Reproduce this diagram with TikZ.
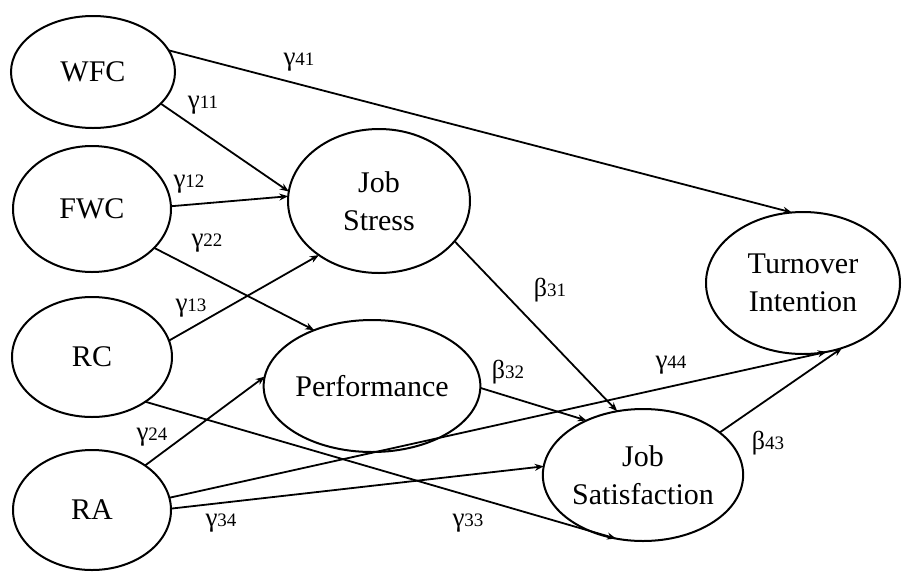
\documentclass[tikz,border=0pt]{standalone}
\usepackage{fontspec}
\setmainfont{Liberation Serif}
\usetikzlibrary{shapes.geometric,arrows.meta}
\newcommand\coefg[1]{{\fontsize{27}{27}\selectfont γ}{\fontsize{19}{19}\selectfont #1}}
\newcommand\coefb[1]{{\fontsize{26}{26}\selectfont β}{\fontsize{19}{19}\selectfont #1}}
\begin{document}
\begin{tikzpicture}[x=1pt,y=-1pt,
  latent/.style={draw,ellipse,line width=2pt,inner sep=0pt,outer sep=0pt,align=center,font=\fontsize{30}{38}\selectfont},
  pathline/.style={line width=1.8pt,-{Stealth[length=9pt,width=7pt]}},
  coef/.style={inner sep=0pt}]
\useasboundingbox[fill=white] (0,0) rectangle (902,571);
% latent variables
\node[latent,minimum width=164pt,minimum height=112pt] (wfc) at (93,72) {WFC};
\node[latent,minimum width=158pt,minimum height=126pt] (fwc) at (92,209) {FWC};
\node[latent,minimum width=160pt,minimum height=120pt] (rc) at (92,357) {RC};
\node[latent,minimum width=158pt,minimum height=120pt] (ra) at (92,510) {RA};
\node[latent,minimum width=182pt,minimum height=144pt] (js) at (379,201) {Job\\Stress};
\node[latent,minimum width=200pt,minimum height=132pt] (perf) at (372,386) {Performance};
\node[latent,minimum width=190pt,minimum height=132pt] (sat) at (643,475) {Job\\Satisfaction};
\node[latent,minimum width=194pt,minimum height=142pt] (ti) at (803,283) {Turnover\\Intention};
% paths
\draw[pathline] (wfc.16) -- (ti.99);
\draw[pathline] (wfc.-25) -- (js.174);
\draw[pathline] (fwc.2) -- (js.177);
\draw[pathline] (fwc.-32) -- (perf.136);
\draw[pathline] (rc.12) -- (js.222);
\draw[pathline] (ra.40) -- (perf.175);
\draw[pathline] (rc.-40) -- (sat.247);
\draw[pathline] (ra.9) -- (ti.-71);
\draw[pathline] (ra.1) -- (sat.175);
\draw[pathline] (js.-28) -- (sat.112);
\draw[pathline] (perf.-1) -- (sat.136);
\draw[pathline] (sat.29) -- (ti.-59);
% coefficients
\node[coef] (g41) at (299,62) {\coefg{41}};
\node[coef] (g11) at (203,105) {\coefg{11}};
\node[coef] (g12) at (189,184) {\coefg{12}};
\node[coef] (g22) at (207,243) {\coefg{22}};
\node[coef] (g13) at (191,308) {\coefg{13}};
\node[coef] (g24) at (152,437) {\coefg{24}};
\node[coef] (g34) at (221,523) {\coefg{34}};
\node[coef] (g33) at (468,523) {\coefg{33}};
\node[coef] (b31) at (550,290) {\coefb{31}};
\node[coef] (b32) at (508,372) {\coefb{32}};
\node[coef] (g44) at (671,365) {\coefg{44}};
\node[coef] (b43) at (768,443) {\coefb{43}};
\end{tikzpicture}
\end{document}
